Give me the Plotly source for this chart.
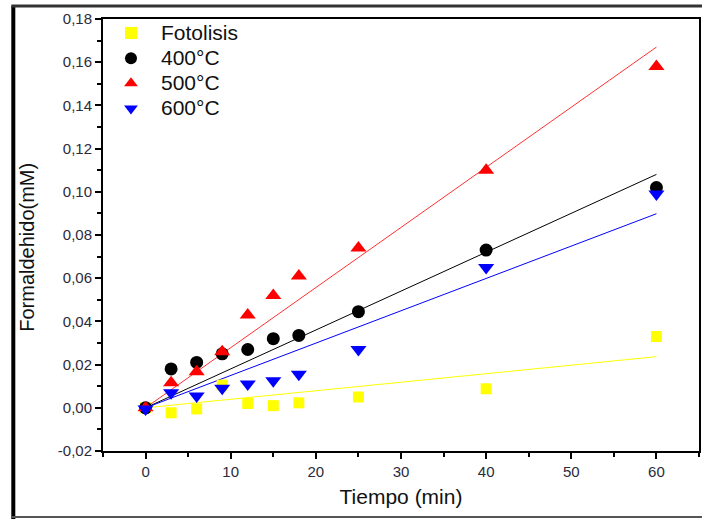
import numpy as np
import plotly.graph_objects as go

tiempo = [0, 3, 6, 9, 12, 15, 18, 25, 40, 60]
fotolisis = [0.0, -0.0023, -0.0005, 0.0105, 0.002, 0.001, 0.0023, 0.005, 0.0088, 0.033]
t400 = [0.0, 0.018, 0.021, 0.025, 0.027, 0.032, 0.0335, 0.0445, 0.073, 0.102]
t500 = [0.0, 0.0116, 0.0167, 0.026, 0.043, 0.052, 0.061, 0.074, 0.110, 0.158]
t600 = [-0.0005, 0.007, 0.0055, 0.009, 0.011, 0.0125, 0.0155, 0.027, 0.065, 0.099]

names = ["Fotolisis", "400°C", "500°C", "600°C"]
series = [fotolisis, t400, t500, t600]
marker_colors = ["#ffff00", "#000000", "#ff0000", "#0000ff"]
line_colors = ["#ffff00", "#000000", "#ff3030", "#0000ff"]
symbols = ["square", "circle", "triangle-up", "triangle-down"]
sizes = [11, 13, 14, 14]

x = np.array(tiempo, dtype=float)
fig = go.Figure()

# through-origin least-squares fit lines
for ys, lc in zip(series, line_colors):
    y = np.array(ys)
    slope = float((x * y).sum() / (x * x).sum())
    xf = [0, 60]
    fig.add_trace(go.Scatter(x=xf, y=[slope * v for v in xf], mode="lines",
                             line=dict(color=lc, width=1), showlegend=False,
                             hoverinfo="skip"))

for ys, nm, mc, sym, sz in zip(series, names, marker_colors, symbols, sizes):
    label = ('<span style="font-size:18px">\u00a0\u00a0</span>'
             '<span style="font-size:21px">' + nm + '</span>')
    fig.add_trace(go.Scatter(x=tiempo, y=ys, mode="markers", name=label,
                             marker=dict(color=mc, symbol=sym, size=sz,
                                         line=dict(width=0))))

font = "Liberation Sans, Arial, sans-serif"
tick_color = "#2b2b3b"

def px_x(p):
    return (p - 103) / 598

def px_y(p):
    return (451 - p) / 432

fig.update_layout(
    width=704, height=519,
    margin=dict(l=103, r=3, t=19, b=68),
    paper_bgcolor="white", plot_bgcolor="white",
    font=dict(family=font, color="#222"),
    legend=dict(x=0.0134, y=1.008, xanchor="left", yanchor="top",
                font=dict(size=17, color="#111"), bgcolor="rgba(0,0,0,0)",
                itemsizing="constant", tracegroupgap=0),
    xaxis=dict(range=[-5, 65], tickvals=[0, 10, 20, 30, 40, 50, 60],
               ticks="outside", ticklen=6, tickwidth=2, tickcolor="black",
               showline=True, linewidth=2, linecolor="black", mirror=True,
               showgrid=False, zeroline=False,
               tickfont=dict(size=15, color=tick_color),
               minor=dict(tickvals=[-5, 5, 15, 25, 35, 45, 55, 65], ticks="outside",
                          ticklen=4, tickwidth=2, tickcolor="black"),
               title=dict(text="Tiempo (min)", font=dict(size=21, color="#111"),
                          standoff=10)),
    yaxis=dict(range=[-0.02, 0.18],
               tickvals=[-0.02, 0, 0.02, 0.04, 0.06, 0.08, 0.10, 0.12, 0.14, 0.16, 0.18],
               ticktext=["-0,02", "0,00", "0,02", "0,04", "0,06", "0,08", "0,10",
                         "0,12", "0,14", "0,16", "0,18"],
               ticks="outside", ticklen=6, tickwidth=2, tickcolor="black",
               showline=True, linewidth=2, linecolor="black", mirror=True,
               showgrid=False, zeroline=False,
               tickfont=dict(size=15, color=tick_color),
               minor=dict(tickvals=[-0.01, 0.01, 0.03, 0.05, 0.07, 0.09, 0.11,
                                    0.13, 0.15, 0.17], ticks="outside",
                          ticklen=4, tickwidth=2, tickcolor="black")),
)

fig.add_annotation(text="Formaldehido(mM)", textangle=-90, showarrow=False,
                   xref="paper", yref="paper", x=px_x(27), y=px_y(247.5),
                   xanchor="center", yanchor="middle",
                   font=dict(size=20, color="#111", family=font))

# outer image frame
fig.add_shape(type="line", xref="paper", yref="paper", x0=px_x(13), x1=px_x(13),
              y0=px_y(6), y1=px_y(519), line=dict(color="black", width=4))
fig.add_shape(type="line", xref="paper", yref="paper", x0=px_x(11), x1=px_x(704),
              y0=px_y(6), y1=px_y(6), line=dict(color="#333", width=3))
fig.add_shape(type="line", xref="paper", yref="paper", x0=px_x(11), x1=px_x(704),
              y0=px_y(517), y1=px_y(517), line=dict(color="#555", width=2))

fig.write_html("out.html")
